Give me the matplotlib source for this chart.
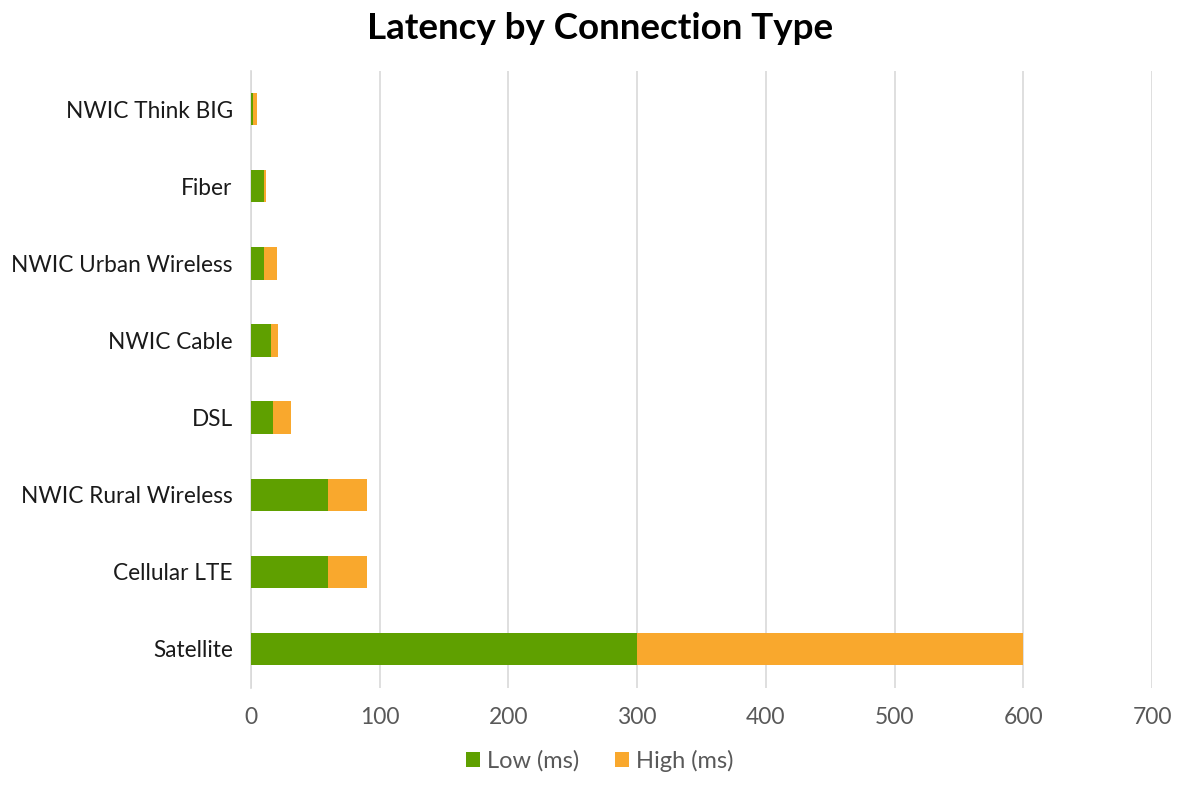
import matplotlib
matplotlib.use('Agg')
import matplotlib.pyplot as plt
import numpy as np

categories = ['NWIC Think BIG', 'Fiber', 'NWIC Urban Wireless', 'NWIC Cable',
              'DSL', 'NWIC Rural Wireless', 'Cellular LTE', 'Satellite']
low_ms = [2, 10, 10, 16, 17, 60, 60, 300]
# stacked segment on top of the low value
high_ms = [3, 2, 10, 5, 14, 30, 30, 300]
xticks = [0, 100, 200, 300, 400, 500, 600, 700]

green = '#5fa000'
orange = '#f9a82d'
grey = '#595959'

plt.rcParams['font.family'] = ['Lato', 'DejaVu Sans']

fig = plt.figure(figsize=(12, 7.87), dpi=100)
ax = fig.add_axes([0.209, 0.1264, 0.751, 0.784])

y = np.arange(len(categories))
ax.barh(y, low_ms, height=0.42, color=green, label='Low (ms)', zorder=3)
ax.barh(y, high_ms, left=low_ms, height=0.42, color=orange, label='High (ms)', zorder=3)

ax.set_ylim(len(categories) - 0.5, -0.5)
ax.set_xlim(0, 700)
ax.set_yticks(y)
ax.set_yticklabels(categories, fontsize=16.3, color='#1a1a1a')
ax.set_xticks(xticks)
ax.set_xticklabels([str(t) for t in xticks], fontsize=16.5, color=grey)
ax.tick_params(axis='y', length=0, pad=13)
ax.tick_params(axis='x', length=0, pad=14)

ax.grid(axis='x', color='#d9d9d9', linewidth=1.2, zorder=0)
for s in ['top', 'right', 'bottom']:
    ax.spines[s].set_visible(False)
ax.spines['left'].set_color('#d9d9d9')
ax.spines['left'].set_linewidth(1.2)

fig.suptitle('Latency by Connection Type', fontsize=26.5, fontweight='bold', y=0.985)

fig.legend(loc='lower center', bbox_to_anchor=(0.5, -0.008), ncol=2, frameon=False,
           fontsize=17, handlelength=0.6, handleheight=0.6, handletextpad=0.3,
           columnspacing=1.5, labelcolor=grey)

fig.savefig('out.png', dpi=100)
